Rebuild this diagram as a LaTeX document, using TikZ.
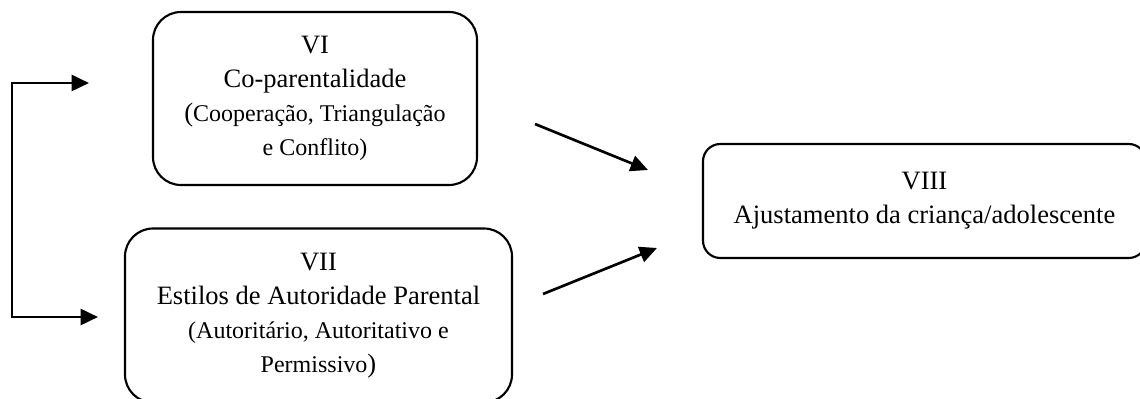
\documentclass[tikz,border=0pt]{standalone}
\usepackage{fontspec}
\setmainfont{Liberation Serif}
\usetikzlibrary{arrows.meta}
% smaller type used for the parenthesised lists
\newcommand\smalltxt[1]{{\fontsize{18pt}{25.5pt}\selectfont #1}}
\begin{document}
\begin{tikzpicture}[x=0.75pt,y=-0.75pt,
  box/.style={draw, line width=1.6pt, align=center, inner sep=0pt,
              font=\fontsize{19.9pt}{25.5pt}\selectfont},
  arr/.style={line width=2pt, -{Triangle[length=13pt,width=12pt]}},
  bracket/.style={line width=2pt, line join=miter,
                  {Triangle[length=13pt,width=12pt]}-{Triangle[length=13pt,width=12pt]}},
]
\useasboundingbox (0,0) rectangle (1140,399);

% the three factor boxes
\node[box, rounded corners=21pt, minimum width=243pt, minimum height=129.75pt]
  (copar) at (315,98.5)
  {VI\\Co-parentalidade\\(\smalltxt{Cooperação, Triangulação}\\\smalltxt{e Conflito)}};
\node[box, rounded corners=21pt, minimum width=290.25pt, minimum height=130.5pt]
  (estilos) at (318.5,315.5)
  {VII\\Estilos de Autoridade Parental\\\smalltxt{(Autoritário, Autoritativo e}\\\smalltxt{Permissivo})};
\node[box, rounded corners=13pt, minimum width=332.25pt, minimum height=85.5pt]
  (ajust) at (924.5,201)
  {VIII\\Ajustamento da criança/adolescente};

% free ends of the connectors
\coordinate (topin) at (89,83);
\coordinate (topcorner) at (12,83);
\coordinate (botcorner) at (12,317);
\coordinate (botin) at (98,317);
\coordinate (fromVI) at (535,124);
\coordinate (toVIIIa) at (648,170);
\coordinate (fromVII) at (543,294);
\coordinate (toVIIIb) at (657,248);

% link between VI and VII
\draw[bracket] (topin) -- (topcorner) -- (botcorner) -- (botin);

% effects on adjustment
\draw[arr] (fromVI) -- (toVIIIa);
\draw[arr] (fromVII) -- (toVIIIb);
\end{tikzpicture}
\end{document}
